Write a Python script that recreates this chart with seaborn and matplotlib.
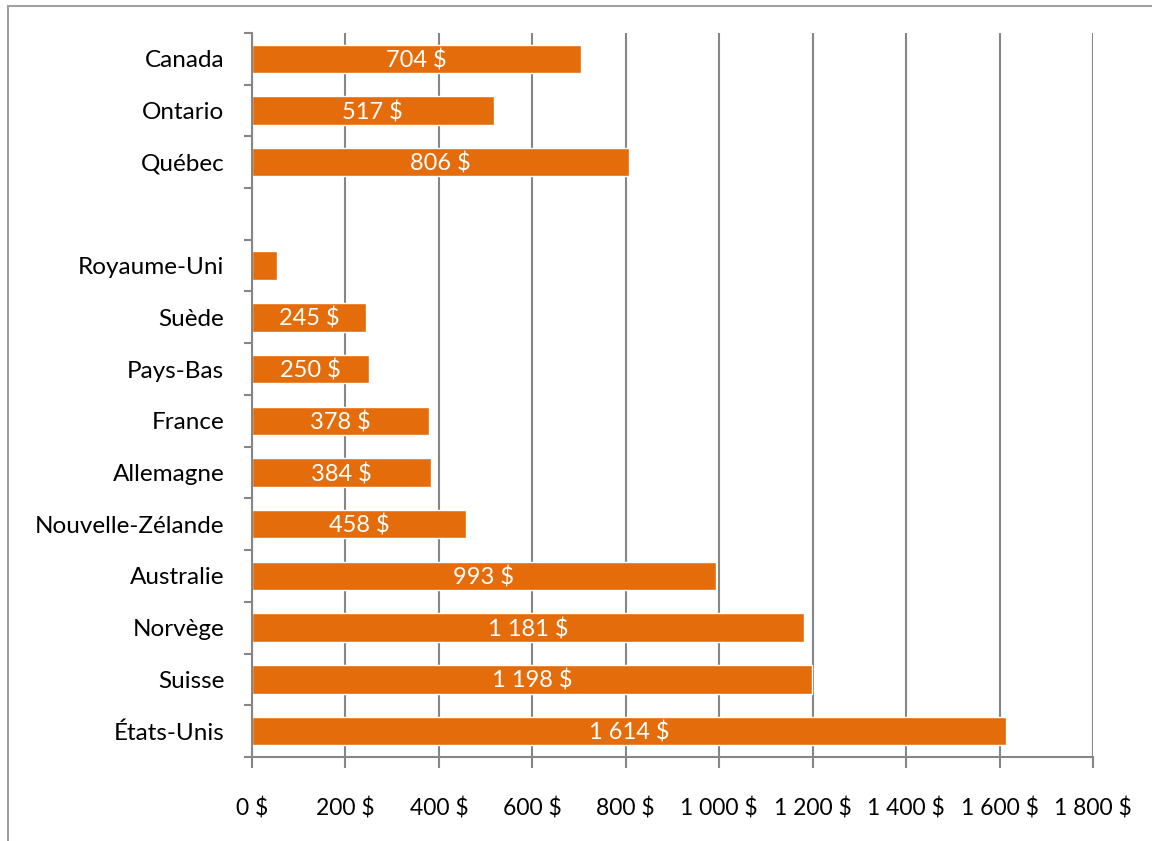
import numpy as np
import pandas as pd
import matplotlib
matplotlib.use("Agg")
import matplotlib.pyplot as plt
import seaborn as sns
from matplotlib.patches import Rectangle

# Data (top to bottom); "" is the empty gap row
regions = ["Canada", "Ontario", "Québec", "", "Royaume-Uni", "Suède", "Pays-Bas",
           "France", "Allemagne", "Nouvelle-Zélande", "Australie", "Norvège",
           "Suisse", "États-Unis"]
values = [704, 517, 806, np.nan, 53, 245, 250, 378, 384, 458, 993, 1181, 1198, 1614]
bar_labels = ["704 $", "517 $", "806 $", "", "", "245 $", "250 $", "378 $", "384 $",
              "458 $", "993 $", "1 181 $", "1 198 $", "1 614 $"]
x_ticks = [0, 200, 400, 600, 800, 1000, 1200, 1400, 1600, 1800]
x_tick_labels = ["0 $", "200 $", "400 $", "600 $", "800 $", "1 000 $", "1 200 $",
                 "1 400 $", "1 600 $", "1 800 $"]

df = pd.DataFrame({"region": regions, "value": values})

sns.set_style("white")
plt.rcParams["font.family"] = ["Lato", "DejaVu Sans"]

grey = "#868686"
orange = "#E46C0A"

fig = plt.figure(figsize=(11.52, 8.41), dpi=100)
ax = fig.add_axes([0.21875, 0.0999, 0.73, 0.861])

sns.barplot(data=df, x="value", y="region", orient="h", color=orange,
            saturation=1, width=0.55, ax=ax, order=regions)

# labels centred inside the bars
for i, (v, lab) in enumerate(zip(values, bar_labels)):
    if lab:
        ax.text(v / 2, i + 0.03, lab, color="white", fontsize=17, ha="center", va="center")

ax.set_xlim(0, 1800)
ax.set_ylim(len(regions) - 0.5, -0.5)
ax.set_xticks(x_ticks)
ax.set_xticklabels(x_tick_labels, fontsize=16.5, color="black")
ax.set_xlabel("")
ax.set_ylabel("")
ax.tick_params(axis="y", which="major", left=False, length=0, pad=20,
               labelsize=17.5, labelcolor="black")
ax.set_yticks(np.arange(-0.5, len(regions), 1), minor=True)
ax.tick_params(axis="y", which="minor", left=True, length=6, width=1.5,
               color=grey, direction="out")
ax.tick_params(axis="x", which="major", bottom=True, length=8, width=1.5,
               color=grey, direction="out", pad=21)

ax.xaxis.grid(True, color=grey, linewidth=1.5)
ax.yaxis.grid(False)
ax.set_axisbelow(True)
for s in ["top", "right"]:
    ax.spines[s].set_visible(False)
for s in ["left", "bottom"]:
    ax.spines[s].set_color(grey)
    ax.spines[s].set_linewidth(1.5)
ax.spines["left"].set_zorder(5)

# outer chart border
fig.patches.append(Rectangle((8 / 1152, -0.1), 1.2, 1.1 - 6 / 841, transform=fig.transFigure,
                             fill=False, edgecolor="#A0A0A0", linewidth=1.5))

fig.savefig("out.png", dpi=100)
